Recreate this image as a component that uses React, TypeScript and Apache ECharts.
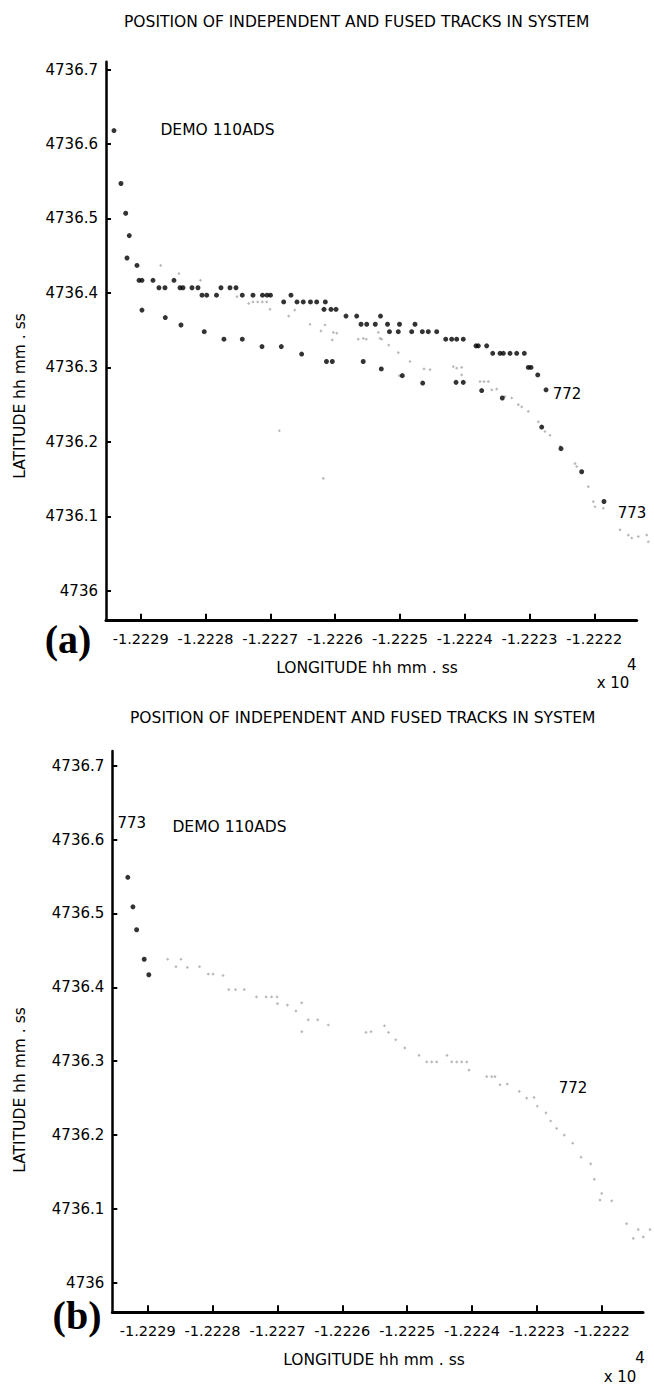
import React, { useEffect, useRef } from "react";
import * as echarts from "echarts";

const FONT = '"DejaVu Sans", "Liberation Sans", sans-serif';
const SERIF = '"Liberation Serif", "DejaVu Serif", serif';

const TITLE = "POSITION OF INDEPENDENT AND FUSED TRACKS IN SYSTEM";
const X_NAME = "LONGITUDE hh mm . ss";
const Y_NAME = "LATITUDE hh mm . ss";
const NOTE = "DEMO 110ADS";

const xTicks = [-1.2229, -1.2228, -1.2227, -1.2226, -1.2225, -1.2224, -1.2223, -1.2222];
const yTicks = [4736, 4736.1, 4736.2, 4736.3, 4736.4, 4736.5, 4736.6, 4736.7];

// Panel (a): independent track 772 (upper) - large dots
const upperA: [number, number][] = [
  [-1.2229412, 4736.618], [-1.2229304, 4736.547], [-1.2229231, 4736.507], [-1.2229176, 4736.477],
  [-1.2229211, 4736.447], [-1.2229057, 4736.437], [-1.2229026, 4736.417], [-1.222898, 4736.417],
  [-1.222881, 4736.417], [-1.2228718, 4736.407], [-1.2228625, 4736.407], [-1.2228486, 4736.417],
  [-1.2228393, 4736.407], [-1.2228347, 4736.407], [-1.2228208, 4736.407], [-1.2228116, 4736.407],
  [-1.2228054, 4736.397], [-1.2227981, 4736.397], [-1.222783, 4736.397], [-1.2227761, 4736.407],
  [-1.2227622, 4736.407], [-1.2227529, 4736.407], [-1.2227432, 4736.397], [-1.2227267, 4736.397],
  [-1.222712, 4736.397], [-1.2227051, 4736.397], [-1.2226997, 4736.397], [-1.2226793, 4736.388],
  [-1.2226681, 4736.397], [-1.2226588, 4736.388], [-1.2226491, 4736.388], [-1.222638, 4736.388],
  [-1.2226284, 4736.388], [-1.2226151, 4736.388], [-1.2226171, 4736.378], [-1.2226063, 4736.378],
  [-1.2225986, 4736.378], [-1.2225832, 4736.369], [-1.2225667, 4736.369], [-1.2225299, 4736.369],
  [-1.22256, 4736.358], [-1.2225512, 4736.358], [-1.222538, 4736.358], [-1.2225191, 4736.358],
  [-1.2225006, 4736.358], [-1.2224767, 4736.358], [-1.2225161, 4736.348], [-1.2225025, 4736.348],
  [-1.2224818, 4736.348], [-1.2224654, 4736.348], [-1.2224562, 4736.348], [-1.2224432, 4736.348],
  [-1.2224293, 4736.338], [-1.2224201, 4736.338], [-1.2224124, 4736.338], [-1.2224022, 4736.338],
  [-1.2223826, 4736.329], [-1.222379, 4736.329], [-1.2223661, 4736.329], [-1.2223568, 4736.319],
  [-1.2223455, 4736.319], [-1.2223404, 4736.319], [-1.2223301, 4736.319], [-1.2223198, 4736.319],
  [-1.222308, 4736.319], [-1.2223019, 4736.3], [-1.2222977, 4736.3], [-1.2222873, 4736.29],
  [-1.2222745, 4736.27],
];

// Panel (a): independent track 773 (lower) - large dots
const lowerA: [number, number][] = [
  [-1.222898, 4736.377], [-1.222862, 4736.367], [-1.2228378, 4736.357], [-1.2228019, 4736.348],
  [-1.2227715, 4736.338], [-1.2227432, 4736.338], [-1.2227128, 4736.328], [-1.222683, 4736.328],
  [-1.2226516, 4736.318], [-1.2226133, 4736.308], [-1.2226043, 4736.308], [-1.2225566, 4736.308],
  [-1.2225287, 4736.298], [-1.2224963, 4736.289], [-1.2224648, 4736.279], [-1.2224134, 4736.28],
  [-1.2224022, 4736.28], [-1.2223738, 4736.269], [-1.222342, 4736.259], [-1.2222812, 4736.22],
  [-1.2222514, 4736.191], [-1.2222195, 4736.16], [-1.2221851, 4736.12],
];

// Panel (a): fused track - faint small marks
const fusedA: [number, number][] = [
  [-1.2228691, 4736.437], [-1.2228409, 4736.426], [-1.2228077, 4736.417], [-1.2227514, 4736.395],
  [-1.2227333, 4736.386], [-1.2227267, 4736.388], [-1.2227194, 4736.388], [-1.2227123, 4736.388],
  [-1.2227056, 4736.388], [-1.2227005, 4736.378], [-1.2226716, 4736.369], [-1.2226623, 4736.377],
  [-1.2226387, 4736.358], [-1.2226218, 4736.349], [-1.2226156, 4736.357], [-1.2226043, 4736.337],
  [-1.2226028, 4736.347], [-1.2225975, 4736.346], [-1.2225642, 4736.338], [-1.2225565, 4736.339],
  [-1.2225519, 4736.338], [-1.2225333, 4736.347], [-1.2225307, 4736.339], [-1.2225281, 4736.338],
  [-1.2225173, 4736.33], [-1.2225025, 4736.32], [-1.2225009, 4736.289], [-1.2224844, 4736.308],
  [-1.2224628, 4736.298], [-1.2224535, 4736.297], [-1.2224176, 4736.301], [-1.2224124, 4736.299],
  [-1.2224046, 4736.3], [-1.2224046, 4736.29], [-1.2223764, 4736.281], [-1.2223702, 4736.281],
  [-1.2223636, 4736.281], [-1.2223583, 4736.27], [-1.2223506, 4736.271], [-1.2223378, 4736.261],
  [-1.2223275, 4736.259], [-1.2223173, 4736.25], [-1.222312, 4736.247], [-1.2223019, 4736.241],
  [-1.2222864, 4736.227], [-1.2222761, 4736.214], [-1.2222684, 4736.209], [-1.2222529, 4736.194],
  [-1.2222298, 4736.171], [-1.2222272, 4736.167], [-1.2222093, 4736.14], [-1.2222016, 4736.12],
  [-1.2221989, 4736.113], [-1.2221861, 4736.111], [-1.2221603, 4736.082], [-1.2221475, 4736.075],
  [-1.2221423, 4736.071], [-1.2221321, 4736.073], [-1.2221191, 4736.075], [-1.2221167, 4736.066],
  [-1.2226861, 4736.215], [-1.2226182, 4736.151],
];

// Panel (b): start of track 773 - large dots
const startB: [number, number][] = [
  [-1.2229307, 4736.549], [-1.2229228, 4736.509], [-1.2229171, 4736.478], [-1.2229054, 4736.438],
  [-1.2228983, 4736.417],
];

// Panel (b): fused track - faint small marks
const fusedB: [number, number][] = [
  [-1.2228693, 4736.438], [-1.2228487, 4736.438], [-1.2228564, 4736.428], [-1.2228389, 4736.427],
  [-1.2228201, 4736.428], [-1.2228066, 4736.418], [-1.2227993, 4736.418], [-1.2227839, 4736.416],
  [-1.222775, 4736.397], [-1.2227646, 4736.397], [-1.2227511, 4736.397], [-1.2227323, 4736.387],
  [-1.2227175, 4736.387], [-1.222709, 4736.387], [-1.2227006, 4736.387], [-1.2226999, 4736.378],
  [-1.2226845, 4736.376], [-1.2226715, 4736.368], [-1.2226626, 4736.379], [-1.2226624, 4736.34],
  [-1.2226524, 4736.356], [-1.2226379, 4736.356], [-1.2226215, 4736.349], [-1.2225634, 4736.339],
  [-1.2225557, 4736.34], [-1.2225349, 4736.348], [-1.2225287, 4736.339], [-1.2225176, 4736.329],
  [-1.2225036, 4736.318], [-1.2224817, 4736.308], [-1.2224698, 4736.299], [-1.2224621, 4736.299],
  [-1.2224544, 4736.299], [-1.2224385, 4736.308], [-1.2224313, 4736.299], [-1.2224236, 4736.299],
  [-1.2224159, 4736.299], [-1.2224082, 4736.299], [-1.2224046, 4736.288], [-1.2223773, 4736.279],
  [-1.2223696, 4736.279], [-1.2223645, 4736.279], [-1.2223568, 4736.268], [-1.2223456, 4736.269],
  [-1.2223271, 4736.259], [-1.2223157, 4736.25], [-1.2223044, 4736.251], [-1.2222993, 4736.239],
  [-1.2222859, 4736.23], [-1.2222787, 4736.219], [-1.2222694, 4736.209], [-1.2222577, 4736.2],
  [-1.2222447, 4736.189], [-1.2222319, 4736.17], [-1.222217, 4736.161], [-1.2222114, 4736.14],
  [-1.2222, 4736.121], [-1.2222026, 4736.112], [-1.2221846, 4736.111], [-1.2221615, 4736.08],
  [-1.2221513, 4736.06], [-1.2221436, 4736.072], [-1.2221359, 4736.062], [-1.2221256, 4736.072],
];

const INK = "#000";

function xAxisCfg(gridIndex: number, min: number, max: number) {
  return {
    type: "value",
    gridIndex,
    min,
    max,
    axisLine: { show: true, onZero: false, lineStyle: { color: INK, width: 3 } },
    axisTick: { show: true, inside: true, length: 7, lineStyle: { color: INK, width: 2 }, customValues: xTicks },
    axisLabel: {
      show: true,
      customValues: xTicks,
      formatter: (v: number) => v.toFixed(4),
      color: INK,
      fontFamily: FONT,
      fontSize: 14.5,
      margin: 11,
    },
    splitLine: { show: false },
  };
}

function yAxisCfg(gridIndex: number, min: number, max: number) {
  return {
    type: "value",
    gridIndex,
    min,
    max,
    position: "left",
    axisLine: { show: true, onZero: false, lineStyle: { color: INK, width: 2.5 } },
    axisTick: { show: true, inside: true, length: 5, lineStyle: { color: INK, width: 2 }, customValues: yTicks },
    axisLabel: {
      show: true,
      customValues: yTicks,
      formatter: (v: number) => {
        const r = Math.round(v * 10) / 10;
        return Number.isInteger(r) ? String(r) : r.toFixed(1);
      },
      color: INK,
      fontFamily: FONT,
      fontSize: 15,
      margin: 8,
    },
    splitLine: { show: false },
  };
}

function txt(text: string, x: number, y: number, size: number, extra: any = {}) {
  return {
    type: "text",
    x,
    y,
    silent: true,
    ...extra,
    style: {
      text,
      fill: INK,
      fontFamily: FONT,
      fontSize: size,
      align: "center",
      verticalAlign: "middle",
      ...(extra.style || {}),
    },
  };
}

function bigDots(name: string, data: [number, number][], idx: number) {
  return {
    name,
    type: "scatter",
    xAxisIndex: idx,
    yAxisIndex: idx,
    data,
    symbol: "circle",
    symbolSize: 5,
    clip: false,
    itemStyle: { color: INK },
  };
}

function faintDots(name: string, data: [number, number][], idx: number) {
  return {
    name,
    type: "scatter",
    xAxisIndex: idx,
    yAxisIndex: idx,
    data,
    symbol: "diamond",
    symbolSize: 3.2,
    clip: false,
    itemStyle: { color: "#a6a6a6" },
  };
}

export default function App() {
  const ref = useRef<HTMLDivElement | null>(null);

  useEffect(() => {
    if (!ref.current) return;
    const chart = echarts.init(ref.current, undefined, { renderer: "svg" });
    const option: any = {
      animation: false,
      backgroundColor: "#fff",
      grid: [
        { left: 106, top: 61.7, width: 530.7, height: 559, containLabel: false },
        { left: 112.3, top: 751, width: 530.7, height: 561.3, containLabel: false },
      ],
      xAxis: [xAxisCfg(0, -1.2229535, -1.2221346), xAxisCfg(1, -1.2229546, -1.2221363)],
      yAxis: [yAxisCfg(0, 4735.96, 4736.7105), yAxisCfg(1, 4735.96, 4736.72)],
      series: [
        faintDots("fused (a)", fusedA, 0),
        bigDots("track 772 (a)", upperA, 0),
        bigDots("track 773 (a)", lowerA, 0),
        faintDots("fused (b)", fusedB, 1),
        bigDots("track 773 (b)", startB, 1),
      ],
      graphic: [
        txt(TITLE, 124, 21.7, 15.5, { style: { align: "left" } }),
        txt(NOTE, 217.5, 130, 15.5),
        txt("772", 567, 394, 15),
        txt("773", 632, 513, 15),
        txt("(a)", 68, 639, 40, { style: { fontFamily: SERIF, fontWeight: "bold" } }),
        txt(X_NAME, 367, 668, 15.5),
        txt("4", 631.7, 665, 15),
        txt("x 10", 613, 683, 15),
        txt(Y_NAME, 20, 396, 15.5, { rotation: Math.PI / 2 }),

        txt(TITLE, 130, 718.3, 15.5, { style: { align: "left" } }),
        txt("773", 131.7, 823, 15),
        txt(NOTE, 229.5, 827, 15.5),
        txt("772", 573, 1088, 15),
        txt("(b)", 77, 1315, 40, { style: { fontFamily: SERIF, fontWeight: "bold" } }),
        txt(X_NAME, 374, 1360, 15.5),
        txt("4", 640, 1358, 15),
        txt("x 10", 620, 1377, 15),
        txt(Y_NAME, 20, 1090, 15.5, { rotation: Math.PI / 2 }),
      ],
    };
    chart.setOption(option);
    return () => chart.dispose();
  }, []);

  return (
    <div
      ref={ref}
      style={{ position: "absolute", left: 0, top: 0, width: 654, height: 1385, background: "#fff" }}
    />
  );
}
